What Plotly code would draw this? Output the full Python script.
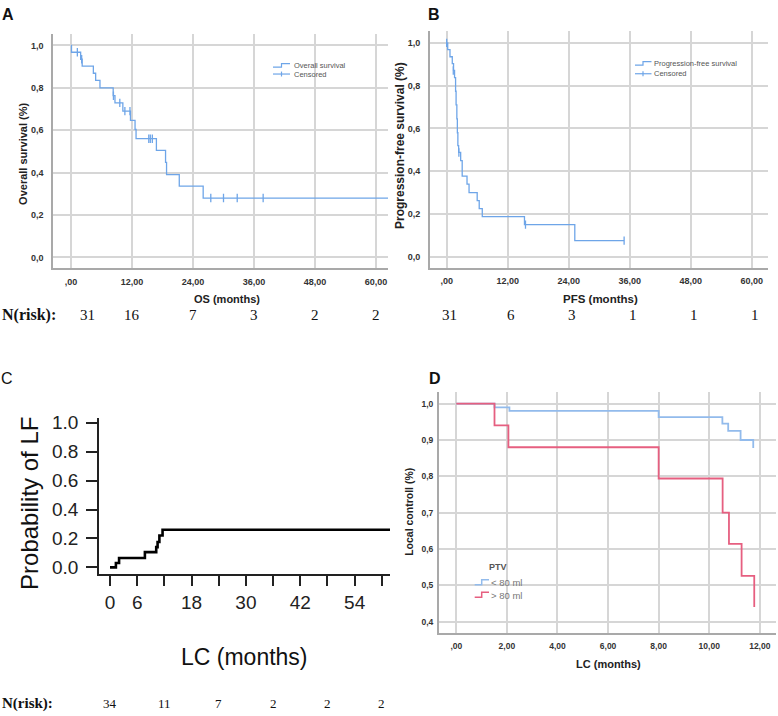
import plotly.graph_objects as go

W, H = 778, 716

# ---------------- data ----------------
# A: overall survival (Kaplan-Meier)
os_time = [0, 0.1, 1.9, 2.2, 4.4, 4.85, 5.7, 8.3, 8.65, 10.2, 11.7, 12.6, 12.8, 16.8, 18.6, 18.8, 21.3, 26.0, 64.0]
os_surv = [1.0, 0.968, 0.935, 0.903, 0.869, 0.835, 0.800, 0.763, 0.729, 0.690, 0.647, 0.604, 0.560, 0.505, 0.448, 0.391, 0.336, 0.280, 0.280]
os_cens_time = [1.25, 2.1, 8.35, 9.6, 10.6, 11.6, 15.3, 15.6, 16.0, 27.5, 30.0, 32.7, 37.8]
os_cens_surv = [0.968, 0.935, 0.763, 0.729, 0.690, 0.690, 0.560, 0.560, 0.560, 0.280, 0.280, 0.280, 0.280]

# B: progression-free survival
pfs_time = [0, 0.2, 0.65, 1.1, 1.35, 1.55, 1.75, 1.85, 2.0, 2.1, 2.2, 2.35, 2.75, 3.05, 4.0, 4.4, 6.0, 6.4, 7.0, 15.3, 25.2, 34.9]
pfs_surv = [1.0, 0.968, 0.935, 0.903, 0.871, 0.838, 0.774, 0.710, 0.645, 0.580, 0.520, 0.488, 0.450, 0.377, 0.340, 0.300, 0.263, 0.226, 0.188, 0.151, 0.076, 0.076]
pfs_cens_time = [0.0, 1.3, 2.4, 15.5, 34.9]
pfs_cens_surv = [1.0, 0.871, 0.488, 0.151, 0.076]

# C: cumulative probability of local failure
lf_time = [0, 1.3, 2.0, 7.7, 10.2, 10.5, 10.9, 11.6, 64.0]
lf_prob = [0, 0.03, 0.065, 0.105, 0.14, 0.175, 0.22, 0.26, 0.26]

# D: local control by PTV
lc_small_time = [0, 1.51, 2.1, 8.0, 10.52, 10.75, 11.24, 11.74]
lc_small_surv = [1.0, 0.99, 0.98, 0.963, 0.945, 0.925, 0.90, 0.878]
lc_large_time = [0, 1.51, 2.06, 8.0, 10.53, 10.78, 11.28, 11.78]
lc_large_surv = [1.0, 0.94, 0.88, 0.794, 0.70, 0.614, 0.526, 0.44]

# numbers at risk
risk_times = [0, 12, 24, 36, 48, 60]
os_risk = [31, 16, 7, 3, 2, 2]
pfs_risk = [31, 6, 3, 1, 1, 1]
lf_risk = [34, 11, 7, 2, 2, 2]

# tick labels
km_xticks = [0, 12, 24, 36, 48, 60]
km_xtext = [",00", "12,00", "24,00", "36,00", "48,00", "60,00"]
km_yticks = [0, 0.2, 0.4, 0.6, 0.8, 1.0]
km_ytext = ["0,0", "0,2", "0,4", "0,6", "0,8", "1,0"]
c_xticks = [0, 6, 12, 18, 24, 30, 36, 42, 48, 54, 60]
c_xtext = ["0", "6", "", "18", "", "30", "", "42", "", "54", ""]
c_yticks = [0, 0.2, 0.4, 0.6, 0.8, 1.0]
c_ytext = ["0.0", "0.2", "0.4", "0.6", "0.8", "1.0"]
d_xticks = [0, 2, 4, 6, 8, 10, 12]
d_xtext = [",00", "2,00", "4,00", "6,00", "8,00", "10,00", "12,00"]
d_yticks = [0.4, 0.5, 0.6, 0.7, 0.8, 0.9, 1.0]
d_ytext = ["0,4", "0,5", "0,6", "0,7", "0,8", "0,9", "1,0"]

# ---------------- style ----------------
BLUE = "#6ea5e8"
DBLUE = "#92bbec"
RED = "#e65f80"
GRID = "#d6d6d6"
AXL = "#a9a9a9"
SANS = "Liberation Sans, Arial, sans-serif"
SERIF = "Liberation Serif, Times New Roman, serif"


def px(x):
    return x / W


def py(y):
    return 1 - y / H


fig = go.Figure()

# A
fig.add_trace(go.Scatter(x=os_time, y=os_surv, mode="lines", line=dict(color=BLUE, width=1.3, shape="hv"),
                         xaxis="x", yaxis="y", showlegend=False, hoverinfo="skip"))
fig.add_trace(go.Scatter(x=os_cens_time, y=os_cens_surv, mode="markers",
                         marker=dict(symbol="line-ns", size=6, line=dict(color=BLUE, width=1.3)),
                         xaxis="x", yaxis="y", showlegend=False, hoverinfo="skip"))
# B
fig.add_trace(go.Scatter(x=pfs_time, y=pfs_surv, mode="lines", line=dict(color=BLUE, width=1.3, shape="hv"),
                         xaxis="x2", yaxis="y2", showlegend=False, hoverinfo="skip"))
fig.add_trace(go.Scatter(x=pfs_cens_time, y=pfs_cens_surv, mode="markers",
                         marker=dict(symbol="line-ns", size=6, line=dict(color=BLUE, width=1.3)),
                         xaxis="x2", yaxis="y2", showlegend=False, hoverinfo="skip"))
# C
fig.add_trace(go.Scatter(x=lf_time, y=lf_prob, mode="lines", line=dict(color="black", width=2.6, shape="hv"),
                         xaxis="x3", yaxis="y3", showlegend=False, hoverinfo="skip"))
# D
fig.add_trace(go.Scatter(x=lc_small_time, y=lc_small_surv, mode="lines", line=dict(color=DBLUE, width=1.8, shape="hv"),
                         xaxis="x4", yaxis="y4", showlegend=False, hoverinfo="skip"))
fig.add_trace(go.Scatter(x=lc_large_time, y=lc_large_surv, mode="lines", line=dict(color=RED, width=1.8, shape="hv"),
                         xaxis="x4", yaxis="y4", showlegend=False, hoverinfo="skip"))


def km_x(domain, rng, ticks, text, anchor, fs=9):
    return dict(domain=domain, range=rng, anchor=anchor, tickvals=ticks, ticktext=text,
                showgrid=True, gridcolor=GRID, gridwidth=1.5, zeroline=False,
                showline=True, linecolor=AXL, linewidth=1.5, ticks="",
                tickfont=dict(family=SANS, size=fs, color="#333", weight="bold"), ticklabelstandoff=4)


def km_y(domain, rng, ticks, text, anchor, fs=9):
    return dict(domain=domain, range=rng, anchor=anchor, tickvals=ticks, ticktext=text,
                showgrid=True, gridcolor=GRID, gridwidth=1.5, zeroline=False,
                showline=True, linecolor=AXL, linewidth=1.5, ticks="",
                tickfont=dict(family=SANS, size=fs, color="#333", weight="bold"), ticklabelstandoff=6)


layout = dict(
    width=W, height=H, margin=dict(l=0, r=0, t=0, b=0),
    paper_bgcolor="white", plot_bgcolor="white", showlegend=False,
    xaxis=km_x([px(53), px(388)], [-3.54, 62.36], km_xticks, km_xtext, "y"),
    yaxis=km_y([py(266), py(28)], [-0.0514, 1.056], km_yticks, km_ytext, "x"),
    xaxis2=km_x([px(429.7), px(768)], [-3.34, 63.2], km_xticks, km_xtext, "y2"),
    yaxis2=km_y([py(265.5), py(25)], [-0.0508, 1.057], km_yticks, km_ytext, "x2"),
    xaxis3=dict(domain=[px(99), px(390)], range=[-2.43, 61.8], anchor="y3", tickvals=c_xticks, ticktext=c_xtext,
                showgrid=False, zeroline=False, showline=True, linecolor="#222", linewidth=1.5,
                ticks="outside", ticklen=11, tickwidth=1.5, tickcolor="#222",
                tickfont=dict(family=SANS, size=19, color="#222")),
    yaxis3=dict(domain=[py(575.7), py(418)], range=[-0.0437, 1.032], anchor="x3", tickvals=c_yticks, ticktext=c_ytext,
                showgrid=False, zeroline=False, showline=True, linecolor="#222", linewidth=1.5,
                ticks="outside", ticklen=11, tickwidth=1.5, tickcolor="#222",
                tickfont=dict(family=SANS, size=19, color="#222"), ticklabelstandoff=4),
    xaxis4=km_x([px(438.7), px(776)], [-0.696, 12.64], d_xticks, d_xtext, "y4", fs=8.5),
    yaxis4=km_y([py(635.7), py(391.7)], [0.369, 1.0315], d_yticks, d_ytext, "x4", fs=8.5),
)
layout["yaxis4"]["ticklabelstandoff"] = 2
fig.update_layout(**layout)

ann = []


def txt(x, y, s, size, bold=False, color="#222", family=SANS, xanchor="center", angle=0, xref="paper", xshift=0):
    ann.append(dict(x=x if xref != "paper" else px(x), y=py(y), xref=xref, yref="paper", text=s, showarrow=False,
                    xanchor=xanchor, yanchor="middle", textangle=angle, xshift=xshift,
                    font=dict(family=family, size=size, color=color, weight="bold" if bold else "normal")))


# panel letters
txt(8, 9, "A", 16, bold=True, color="#111")
txt(433.5, 9, "B", 16, bold=True, color="#111")
txt(7, 378, "C", 16, color="#111")
txt(434.7, 377.5, "D", 16, bold=True, color="#111")

# axis titles
txt(227, 297, "OS (months)", 11, bold=True)
txt(23, 150, "Overall survival (%)", 11, bold=True, angle=-90)
txt(600, 297, "PFS (months)", 11.5, bold=True)
txt(400, 142, "Progression-free survival (%)", 12, bold=True, angle=-90)
txt(244, 660, "LC (months)", 23, color="#111")
txt(30, 505, "Probability of LF", 24, color="#111", angle=-90)
txt(608, 667, "LC (months)", 11, bold=True)
txt(409, 513, "Local controll (%)", 10.5, bold=True, angle=-90)

# legends
txt(291.7, 60, "Overall survival", 7.5, color="#555", xanchor="left")
txt(291.7, 69, "Censored", 7.5, color="#555", xanchor="left")
txt(652, 58.5, "Progression-free survival", 7.5, color="#555", xanchor="left")
txt(652, 68.7, "Censored", 7.5, color="#555", xanchor="left")
txt(498, 569, "PTV", 9, bold=True, color="#555")
txt(489, 585, "&lt; 80 ml", 9.5, color="#777", xanchor="left")
txt(489, 598, "&gt; 80 ml", 9.5, color="#777", xanchor="left")

# numbers at risk
txt(0, 313, "N(risk):", 16, bold=True, family=SERIF, color="#111", xanchor="left")
txt(0, 707, "N(risk):", 15, bold=True, family=SERIF, color="#111", xanchor="left")
for i, (t, n) in enumerate(zip(risk_times, os_risk)):
    txt(t, 313, str(n), 15, family=SERIF, color="#111", xref="x", xshift=16 if i == 0 else 0)
for t, n in zip(risk_times, pfs_risk):
    txt(t, 313, str(n), 15, family=SERIF, color="#111", xref="x2", xshift=3)
for t, n in zip(risk_times, lf_risk):
    txt(t, 707, str(n), 13, family=SERIF, color="#111", xref="x3")

fig.update_layout(annotations=ann)

# legend glyphs (paper-coordinate decorations)
shapes = []


def pline(pts, color, width=1.2):
    path = "M " + " L ".join(f"{px(a)},{py(b)}" for a, b in pts)
    shapes.append(dict(type="path", path=path, xref="paper", yref="paper", line=dict(color=color, width=width)))


pline([(273, 62), (281.5, 62), (281.5, 58.5), (290, 58.5)], BLUE)
pline([(273, 69), (290, 69)], BLUE)
pline([(281.5, 66.5), (281.5, 71.5)], BLUE)
pline([(635, 60), (643, 60), (643, 56.5), (651.5, 56.5)], BLUE)
pline([(635, 68.7), (651.5, 68.7)], BLUE)
pline([(643, 66.2), (643, 71.2)], BLUE)
pline([(474.7, 587), (481.7, 587), (481.7, 582), (489, 582)], DBLUE, 1.5)
pline([(474.7, 599.5), (481.7, 599.5), (481.7, 594.5), (489, 594.5)], RED, 1.5)
fig.update_layout(shapes=shapes)

fig.write_html("out.html", config={"displayModeBar": False},
               post_script=["document.body.style.margin='0px';document.body.style.overflow='hidden';"])
